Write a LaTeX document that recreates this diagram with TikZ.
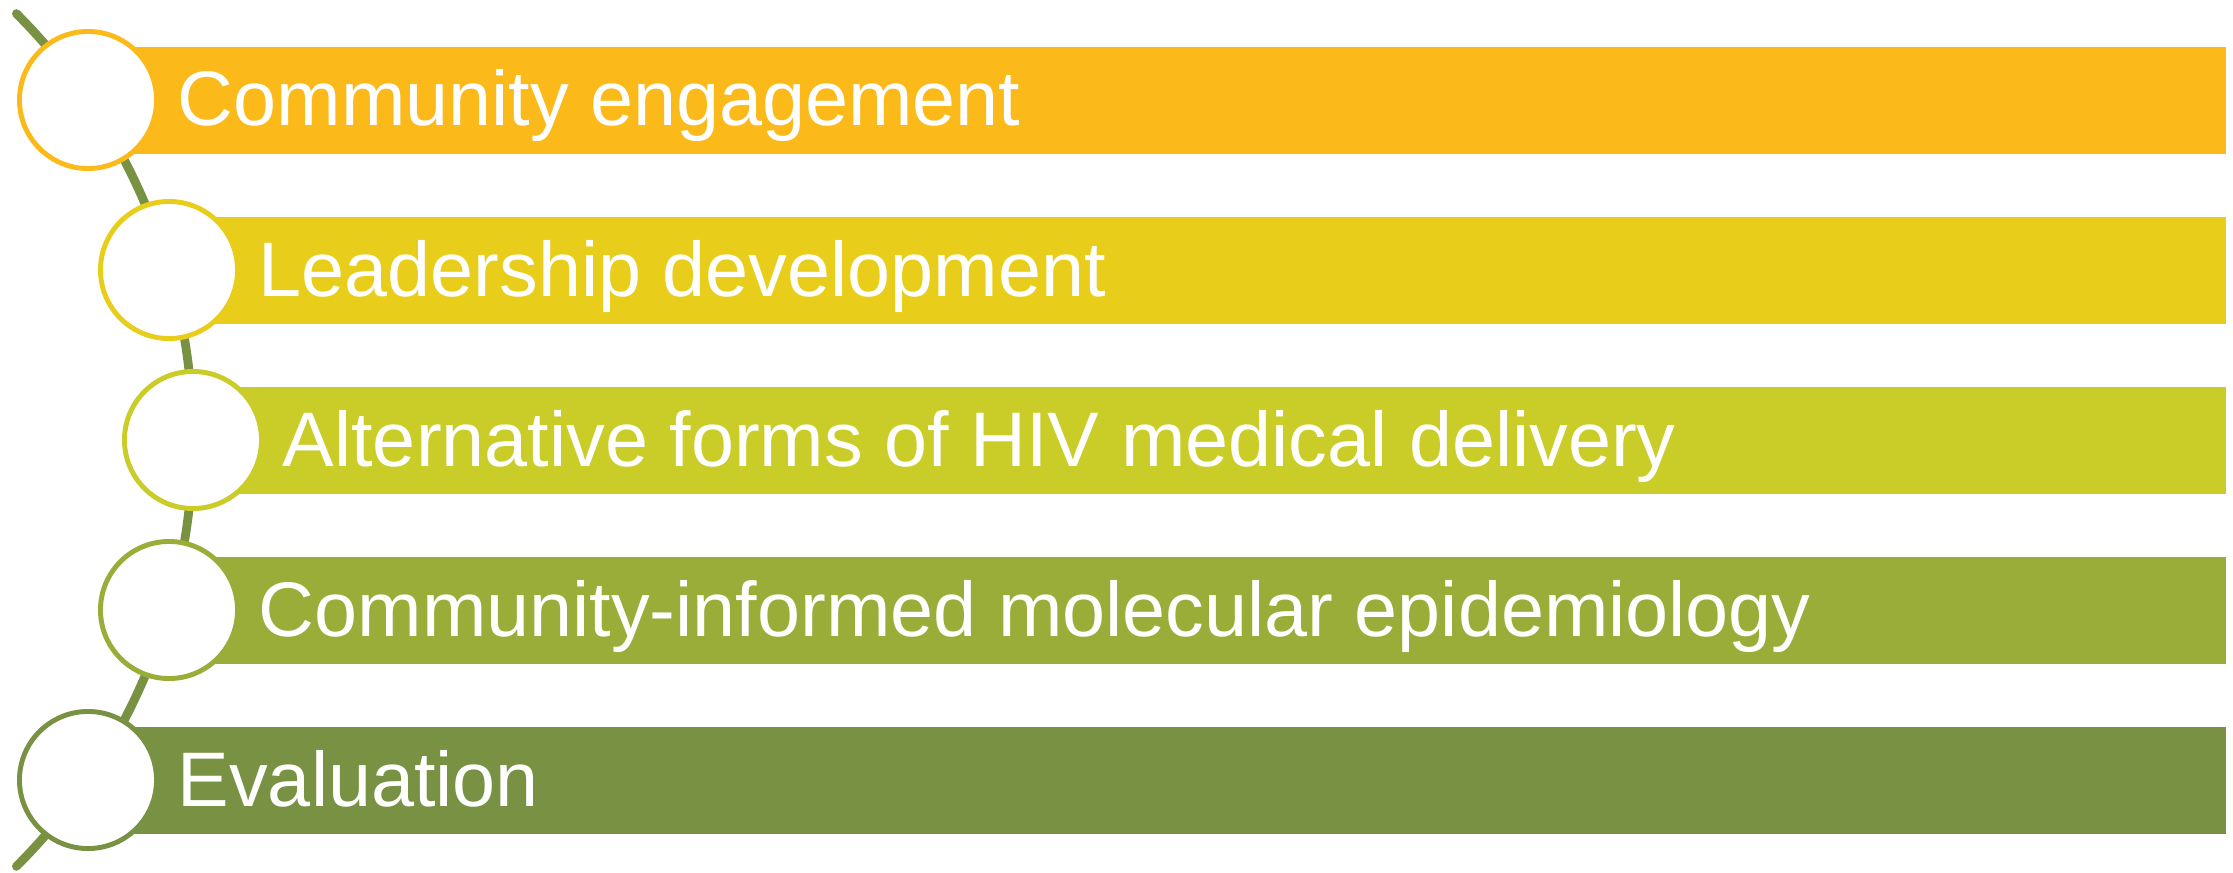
\documentclass[tikz,border=0pt]{standalone}
\usepackage{fontspec}
\setmainfont{Liberation Sans}
\definecolor{stepA}{HTML}{FBBA19}
\definecolor{stepB}{HTML}{E8CE1B}
\definecolor{stepC}{HTML}{CACC27}
\definecolor{stepD}{HTML}{9AAD38}
\definecolor{stepE}{HTML}{789142}
\tikzset{
  ring/.style={circle,draw=#1,fill=white,line width=1.4pt,minimum size=1.37cm,inner sep=0pt},
  label/.style={anchor=base west,inner sep=0pt,text=white,font=\fontsize{22}{27}\selectfont}
}
\begin{document}
\begin{tikzpicture}[line cap=round,line join=round,x=0.01cm,y=0.01cm]
				\useasboundingbox (0,0) rectangle (2233,872);
				% spine
				\draw [line width=2.5pt,color=stepE] (16.4,858.4) arc (45:-45:603);
				% bars
				\fill [stepA] (88,718) rectangle (2226,825);
				\fill [stepB] (169,548) rectangle (2226,655);
				\fill [stepC] (193,378) rectangle (2226,485);
				\fill [stepD] (169,208) rectangle (2226,315);
				\fill [stepE] (88,38) rectangle (2226,145);
				% rings
				\node [ring=stepA] (c1) at (88,772) {};
				\node [ring=stepB] (c2) at (169,602) {};
				\node [ring=stepC] (c3) at (193,432) {};
				\node [ring=stepD] (c4) at (169,262) {};
				\node [ring=stepE] (c5) at (88,92) {};
				% labels
				\node [label] (t1) at (177,746) {Community engagement};
				\node [label] (t2) at (258,576) {Leadership development};
				\node [label] (t3) at (282,406) {Alternative forms of HIV medical delivery};
				\node [label] (t4) at (258,236) {Community-informed molecular epidemiology};
				\node [label] (t5) at (177,66) {Evaluation};
			\end{tikzpicture}
\end{document}
